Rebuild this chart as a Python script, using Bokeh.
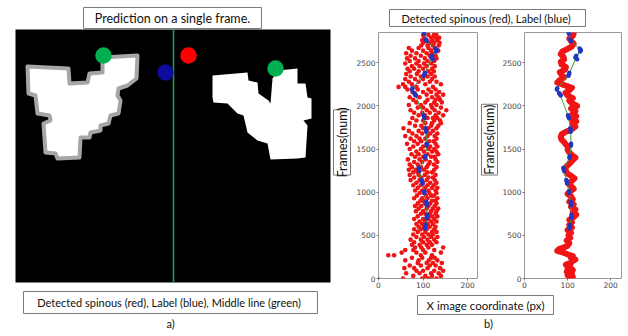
import math
from bokeh.plotting import figure
from bokeh.layouts import row, column
from bokeh.models import Range1d, FixedTicker
from bokeh.core.properties import value
from bokeh.embed import file_html
from bokeh.resources import INLINE

# ---------------- panel a (single frame, drawn in image pixel coordinates) -------------
frame_box = dict(left=15, right=330, top=29, bottom=282)
middle_line_x = 173
blob_left_x = [27, 68, 69, 87, 89, 102, 102, 137, 136, 127, 118, 117, 120, 118, 110, 108, 100, 100,
               90, 89, 80, 79, 57, 55, 45, 43, 50, 49, 37, 35, 28]
blob_left_y = [66, 68, 83, 82, 73, 72, 57, 55, 78, 85, 88, 95, 100, 113, 115, 123, 125, 130,
               132, 137, 137, 157, 158, 153, 152, 123, 120, 115, 113, 95, 93]
blob_right_x = [212, 247, 248, 257, 258, 268, 270, 272, 274, 278, 297, 297, 305, 307, 311, 311, 303,
                307, 305, 297, 270, 267, 257, 247, 243, 237, 227, 213, 212]
blob_right_y = [75, 72, 80, 82, 93, 100, 103, 78, 75, 70, 68, 83, 83, 97, 98, 118, 120,
                125, 157, 158, 159, 143, 140, 132, 115, 113, 103, 102, 97]
marker_x = [103, 165, 188, 275]
marker_y = [55, 72, 55, 68]
marker_colors = ["#00b050", "#0c0c9c", "#ff0000", "#00b050"]

title_a = "Prediction on a single frame."
caption_a = "Detected spinous (red),  Label (blue), Middle line (green)"
title_b = "Detected spinous (red),  Label (blue)"
xlabel_b = "X image coordinate (px)"
ylabel_b = "Frames(num)"

# ---------------- panel b data ----------------
xticks = [0, 100, 200]
yticks = [0, 500, 1000, 1500, 2000, 2500]

b1_frames = [0, 30, 60, 90, 120, 150, 180, 210, 240, 270, 300, 330, 360, 390, 420, 450, 480, 510,
             540, 570, 600, 630, 660, 690, 720, 750, 780, 810, 840, 870, 900, 930, 960, 990, 1020,
             1050, 1080, 1110, 1140, 1170, 1200, 1230, 1260, 1290, 1320, 1350, 1380, 1410, 1440,
             1470, 1500, 1530, 1560, 1590, 1620, 1650, 1680, 1710, 1740, 1770, 1800, 1830, 1860,
             1890, 1920, 1950, 1980, 2010, 2040, 2070, 2100, 2130, 2160, 2190, 2220, 2250, 2280,
             2310, 2340, 2370, 2400, 2430, 2460, 2490, 2520, 2550, 2580, 2610, 2640, 2670, 2700,
             2730, 2760, 2790, 2820]
b1_x1 = [55, 78, 62, 85, 58, 70, 88, 60, 75, 22, 52, 60, 82, 75, 80, 72, 85, 78, 88, 80, 90, 85, 92,
         80, 88, 95, 84, 90, 82, 88, 94, 80, 86, 92, 82, 88, 78, 85, 72, 80, 70, 78, 68, 75, 70, 80,
         66, 82, 74, 85, 70, 78, 64, 80, 72, 60, 76, 68, 56, 82, 70, 85, 76, 90, 80, 72, 88, 68, 85,
         78, 70, 82, 76, 65, 45, 55, 68, 60, 72, 62, 70, 65, 75, 60, 70, 64, 72, 62, 75, 68, 96, 100,
         98, 102, 100]
b1_x2 = [98, 105, 92, 100, 80, 95, 108, 90, 98, 35, 85, 78, 96, 92, 100, 95, 102, 98, 105, 95, 102,
         98, 105, 100, 110, 105, 100, 108, 96, 104, 100, 98, 106, 102, 98, 104, 95, 100, 92, 96, 90,
         88, 84, 95, 88, 98, 92, 100, 90, 102, 95, 100, 88, 96, 92, 85, 98, 90, 100, 96, 105, 100,
         110, 104, 98, 108, 100, 95, 105, 110, 92, 108, 100, 88, 60, 75, 90, 82, 95, 86, 90, 80, 92,
         85, 90, 82, 95, 85, 100, 90, 110, 115, 108, 118, 112]
b1_x3 = [112, 120, 118, 125, 110, 115, 122, 113, 118, 95, 105, 100, 112, 108, 115, 110, 118, 112,
         120, 108, 115, 110, 118, 112, 120, 115, 118, 122, 112, 116, 120, 110, 118, 114, 112, 120,
         110, 116, 108, 112, 104, 110, 102, 108, 112, 115, 106, 118, 110, 120, 112, 116, 108, 114,
         105, 110, 116, 108, 112, 118, 120, 125, 122, 128, 115, 126, 120, 118, 125, 128, 120, 130,
         118, 112, 85, 105, 115, 100, 110, 104, 112, 100, 108, 102, 110, 104, 115, 108, 118, 112,
         122, 125, 120, 128, 124]
b1_x4 = [130, 140, 135, 145, 138, 128, 142, 132, 126, 120, 140, 125, 145, 120, 130, 125, 132, 122,
         130, 125, 128, 122, 130, 125, 132, 128, 130, 134, 126, 130, 128, 132, 124, 130, 128, 132,
         124, 130, 126, 122, 128, 120, 125, 130, 124, 132, 128, 126, 134, 130, 125, 132, 128, 124,
         130, 126, 132, 122, 130, 134, 140, 138, 132, 145, 135, 152, 140, 130, 142, 138, 135, 145,
         136, 128, 122, 140, 130, 120, 126, 118, 124, 120, 126, 118, 125, 130, 128, 120, 134, 126,
         135, 137, 132, 136, 130]
b1_outlier_x = [0]
b1_outlier_frames = [0]

b2_frames = [0, 20, 40, 60, 80, 100, 120, 140, 160, 180, 200, 220, 240, 260, 280, 300, 320, 340, 360,
             380, 410, 440, 470, 500, 530, 560, 590, 620, 650, 680, 710, 740, 770, 800, 830, 860,
             890, 920, 950, 980, 1010, 1040, 1070, 1100, 1130, 1160, 1190, 1220, 1250, 1280, 1310,
             1340, 1370, 1400, 1430, 1460, 1490, 1520, 1550, 1580, 1610, 1640, 1670, 1700, 1730,
             1760, 1790, 1820, 1850, 1880, 1910, 1940, 1970, 2000, 2030, 2060, 2090, 2120, 2150,
             2180, 2210, 2240, 2270, 2300, 2330, 2360, 2390, 2420, 2450, 2480, 2510, 2540, 2570,
             2600, 2630, 2660, 2690, 2720, 2750, 2780, 2810, 2840]
b2_x = [103, 112, 100, 110, 98, 112, 100, 106, 96, 108, 110, 118, 108, 112, 100, 90, 76, 80, 92,
        100, 104, 98, 106, 102, 108, 100, 110, 104, 110, 104, 114, 120, 112, 118, 108, 114, 104,
        112, 108, 100, 106, 114, 108, 102, 110, 116, 108, 98, 96, 94, 100, 106, 112, 118, 110, 104,
        100, 102, 96, 92, 86, 84, 86, 96, 110, 118, 112, 120, 108, 120, 112, 118, 108, 122, 110,
        104, 112, 100, 95, 104, 110, 92, 76, 82, 92, 86, 82, 94, 96, 86, 84, 92, 90, 84, 88, 100,
        110, 114, 108, 104, 112, 114]

label_frames = [2855, 2835, 2770, 2750, 2665, 2645, 2630, 2580, 2560, 2540, 2385, 2365, 2350, 2205,
                2190, 2150, 2135, 2120, 1890, 1875, 1860, 1740, 1720, 1700, 1560, 1540, 1420, 1400,
                1280, 1260, 1245, 1140, 1120, 1100, 1010, 990, 890, 870, 850, 740, 720, 700, 620,
                600, 580]
label_x = [102, 103, 106, 108, 128, 131, 129, 120, 118, 122, 104, 103, 102, 76, 75, 80, 82, 84, 101,
           102, 103, 106, 107, 107, 108, 108, 105, 104, 90, 91, 92, 97, 98, 99, 103, 103, 107, 108,
           108, 109, 109, 108, 106, 105, 104]
path_frames = [2855, 2760, 2645, 2560, 2365, 2200, 2135, 1875, 1720, 1550, 1410, 1262, 1120, 1000,
               870, 720, 600]
path_x = [102, 107, 130, 120, 103, 76, 82, 102, 107, 108, 105, 91, 98, 103, 108, 109, 105]

RED = "#f01414"
BLUE = "#1f36c0"
GREEN = "#3c9a3c"
BOX_LINE = "#7a7a7a"
FONT = "Lato"


def canvas(w, h, x0, x1, y0, y1):
    p = figure(width=w, height=h, x_range=Range1d(x0, x1), y_range=Range1d(y1, y0),
               output_backend="svg", toolbar_location=None, x_axis_type=None, y_axis_type=None,
               min_border=0, outline_line_color=None)
    p.background_fill_color = "white"
    p.border_fill_color = "white"
    return p


def text_box(p, left, right, top, bottom, txt, size, angle=0.0):
    p.quad(left=[left], right=[right], top=[top], bottom=[bottom], fill_color="white",
           line_color=BOX_LINE, line_width=1)
    p.text(x=[(left + right) / 2], y=[(top + bottom) / 2], text=[txt], text_font=value(FONT),
           text_font_size=size, text_align="center", text_baseline="middle", text_color="#111111",
           angle=angle)


# ---- panel a
pa = canvas(332, 336, 0, 332, 0, 336)
pa.quad(left=[frame_box["left"]], right=[frame_box["right"]], top=[frame_box["top"]],
        bottom=[frame_box["bottom"]], fill_color="black", line_color=None)
pa.patch(blob_left_x, blob_left_y, fill_color="white", line_color="#a6a6a6", line_width=4,
         line_join="round")
pa.patch(blob_right_x, blob_right_y, fill_color="white", line_color=None)
pa.segment(x0=[middle_line_x], y0=[frame_box["top"]], x1=[middle_line_x], y1=[frame_box["bottom"]],
           line_color="#22a060", line_width=1.5)
pa.scatter(marker_x, marker_y, size=16.5, fill_color=marker_colors, line_color=None)
text_box(pa, 83, 261, 7, 28, title_a, "12.5px")
text_box(pa, 23, 317, 291, 313, caption_a, "11px")
pa.text(x=[170], y=[323], text=["a)"], text_font=value(FONT), text_font_size="11px",
        text_align="center", text_baseline="middle", text_color="#111111")

# ---- panel b title
pbt = canvas(296, 30, 332, 628, 0, 30)
text_box(pbt, 389, 585, 9, 26, title_b, "11px")


def style_axes(p):
    p.xaxis.ticker = FixedTicker(ticks=xticks)
    p.yaxis.ticker = FixedTicker(ticks=yticks)
    for ax in (p.xaxis, p.yaxis):
        ax.major_label_text_font_size = "7.5px"
        ax.major_label_text_font = "DejaVu Sans"
        ax.major_label_text_color = "#444444"
        ax.major_tick_out = 2
        ax.major_tick_in = 0
        ax.minor_tick_line_color = None
        ax.major_tick_line_color = "#777777"
        ax.axis_line_color = None
        ax.major_label_standoff = 1
    p.grid.visible = False
    p.outline_line_color = "#9a9a9a"
    p.outline_line_width = 1


# ---- y-label boxes (own narrow canvases left of each subplot)
lab1 = canvas(20, 264, 332, 352, 30, 294)
text_box(lab1, 333, 350, 113, 183, ylabel_b, "12.5px", angle=math.pi / 2)
lab2 = canvas(20, 264, 479, 499, 30, 294)
text_box(lab2, 481, 497, 107, 183, ylabel_b, "12.5px", angle=math.pi / 2)

# ---- b1: scatter of detections
b1 = figure(width=127, height=264, x_range=Range1d(0, 222), y_range=Range1d(0, 2850),
            output_backend="svg", toolbar_location=None, min_border_left=26, min_border_right=2,
            min_border_top=2, min_border_bottom=13)
style_axes(b1)
for xs in (b1_x1, b1_x2, b1_x3, b1_x4):
    b1.scatter(xs, b1_frames, size=4.6, fill_color=RED, line_color=None)
b1.scatter(b1_outlier_x, b1_outlier_frames, size=3, fill_color=RED, line_color=None)
b1.line(path_x, path_frames, line_color=GREEN, line_width=1)
b1.scatter(label_x, label_frames, size=4.5, fill_color=BLUE, line_color=None)

# ---- b2: smoothed detections
b2 = figure(width=129, height=264, x_range=Range1d(0, 225), y_range=Range1d(0, 2850),
            output_backend="svg", toolbar_location=None, min_border_left=24, min_border_right=7,
            min_border_top=2, min_border_bottom=16)
style_axes(b2)
b2.line(b2_x, b2_frames, line_color=RED, line_width=6, line_join="round", line_cap="round")
b2.line(path_x, path_frames, line_color=GREEN, line_width=1)
b2.scatter(label_x, label_frames, size=4.5, fill_color=BLUE, line_color=None)

# ---- panel b caption
pbb = canvas(296, 42, 332, 628, 294, 336)
text_box(pbb, 417, 553, 295, 314, xlabel_b, "11.5px")
pbb.text(x=[488], y=[323], text=["b)"], text_font=value(FONT), text_font_size="11px",
         text_align="center", text_baseline="middle", text_color="#111111")

layout = row(pa, column(pbt, row(lab1, b1, lab2, b2), pbb))

open("out.html", "w").write(file_html(layout, INLINE))
